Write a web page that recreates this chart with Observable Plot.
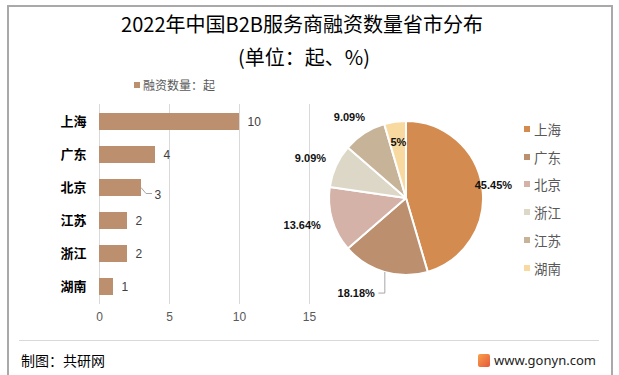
<!DOCTYPE html>
<html><head><meta charset="utf-8">
<script src="https://cdn.jsdelivr.net/npm/d3@7"></script>
<script src="https://cdn.jsdelivr.net/npm/@observablehq/plot@0.6"></script>
<style>
body{margin:0;background:#fff;font-family:"Noto Sans CJK SC","Noto Sans",sans-serif;}
#page{position:relative;width:619px;height:375px;overflow:hidden;background:#fff;}
#frame{position:absolute;left:7px;top:5px;width:606px;height:380px;border:2px solid #A9A9A9;box-sizing:border-box;}
.abs{position:absolute;}
#title{left:0;width:604px;top:10px;text-align:center;font-size:20px;color:#000;line-height:28px;}
#subtitle{left:0;width:608px;top:43px;text-align:center;font-size:20px;color:#000;line-height:28px;}
#barlegend{left:134px;top:77px;font-size:12px;color:#595959;line-height:16px;display:flex;align-items:center;}
#barlegend span.sw{display:inline-block;width:6px;height:6px;margin-right:3px;}
#pielegend{left:524px;top:115px;}
.lrow{height:27.8px;display:flex;align-items:center;font-size:13.5px;color:#595959;}
.lrow span.sw{display:inline-block;width:6px;height:6px;margin-right:4px;}
#sep{left:19px;top:340px;width:580px;height:1px;background:#D9D9D9;}
#credit{left:21px;top:350px;font-size:14px;color:#000;line-height:20px;}
#site{left:478px;top:350px;font-size:13px;color:#222;line-height:20px;display:flex;align-items:center;font-family:"Noto Sans",sans-serif;}
#logo{width:12px;height:13px;margin-right:4px;border-radius:2px;background:linear-gradient(135deg,#F7A24A,#E8553A);}
#bar,#pie{position:absolute;}
#bar{left:0;top:0;}
#pie{left:260px;top:88px;}
</style></head><body>
<div id="page">
  <div id="frame"></div>
  <div id="title" class="abs">2022年中国B2B服务商融资数量省市分布</div>
  <div id="subtitle" class="abs">(单位：起、%)</div>
  <div id="bar"></div>
  <div id="barlegend" class="abs"></div>
  <div id="pie"></div>
  <div id="pielegend" class="abs"></div>
  <div id="sep" class="abs"></div>
  <div id="credit" class="abs">制图：共研网</div>
  <div id="site" class="abs"><div id="logo"></div>www.gonyn.com</div>
</div>
<script>
// ---- data ----
const provinces = ["上海", "广东", "北京", "江苏", "浙江", "湖南"];
const counts = [10, 4, 3, 2, 2, 1];
const xTicks = [0, 5, 10, 15];
const seriesName = "融资数量：起";
const barColor = "#BC8F6E";

const pieProvinces = ["上海", "广东", "北京", "浙江", "江苏", "湖南"];
const pieShares = [45.45, 18.18, 13.64, 9.09, 9.09, 4.55];
const pieLabels = ["45.45%", "18.18%", "13.64%", "9.09%", "9.09%", "5%"];
const pieColors = ["#D38B4F", "#BC8F6E", "#D4B2A8", "#DDD7C7", "#C6B398", "#F8D9A0"];

// ---- bar chart ----
const barData = provinces.map((p, i) => ({province: p, value: counts[i]}));
const leaderBar = "北京"; // label drawn with a leader line

function barLeader(index, scales) {
  const d = barData.find(b => b.province === leaderBar);
  const bw = typeof scales.y.bandwidth === "function" ? scales.y.bandwidth() : 0;
  const x0 = scales.x(d.value), yc = scales.y(d.province) + bw / 2;
  const path = d3.path();
  path.moveTo(x0, yc);
  path.lineTo(x0 + 5, yc + 6);
  path.lineTo(x0 + 11, yc + 6);
  return d3.create("svg:path").attr("d", path.toString()).attr("fill", "none")
    .attr("stroke", "#A6A6A6").attr("stroke-width", 1).node();
}

const bar = Plot.plot({
  width: 330, height: 340,
  marginTop: 104, marginBottom: 36, marginLeft: 99, marginRight: 21,
  style: {background: "transparent", color: "#595959", fontFamily: "'Liberation Sans', Arial, sans-serif"},
  x: {domain: [0, 15]},
  y: {domain: provinces, paddingInner: 0.5, paddingOuter: 0.25},
  marks: [
    Plot.ruleX(xTicks, {stroke: "#D9D9D9", strokeWidth: 1}),
    Plot.barX(barData, {x: "value", y: "province", fill: barColor}),
    Plot.text(barData.filter(d => d.province !== leaderBar), {x: "value", y: "province", text: d => String(d.value), dx: 8, textAnchor: "start", fontSize: 12, fill: "#404040"}),
    barLeader,
    Plot.text(barData.filter(d => d.province === leaderBar), {x: "value", y: "province", text: d => String(d.value), dx: 13, dy: 7, textAnchor: "start", fontSize: 12, fill: "#404040"}),
    Plot.axisX({ticks: xTicks, tickSize: 0, tickPadding: 8, fontSize: 12, fill: "#595959", label: null}),
    Plot.axisY({tickSize: 0, tickPadding: 13, fontSize: 13, fontWeight: "bold", fill: "#000", label: null, fontFamily: "'Noto Sans CJK SC', sans-serif"})
  ]
});
document.getElementById("bar").appendChild(bar);

d3.select("#barlegend").html(`<span class="sw" style="background:${barColor}"></span>${seriesName}`);

// ---- pie chart ----
const total = d3.sum(pieShares);
let acc = 0;
const pieData = pieProvinces.map((p, i) => {
  const a0 = acc / total * 2 * Math.PI;
  acc += pieShares[i];
  const a1 = acc / total * 2 * Math.PI;
  return {province: p, share: pieShares[i], label: pieLabels[i], color: pieColors[i], mid: (a0 + a1) / 2};
});

// label placement rules (units of pie radius)
const pxUnit = 1 / 77;
pieData.forEach(d => {
  const s = Math.sin(d.mid), c = Math.cos(d.mid);
  d.leader = false;
  if (d.share > 40) { d.lx = 1.14 * s; d.ly = 1.2 * c; }          // best fit, on the edge
  else if (d.share < 5) { d.lx = 0.74 * s; d.ly = 0.74 * c; }     // inside
  else if (Math.abs(d.mid - Math.PI) < Math.PI / 6) {               // near bottom: leader line
    d.leader = true;
    d.ex = s; d.ey = c;
    d.lx = s - 10 * pxUnit; d.ly = 1.28 * c;
  } else {                                                          // outside end
    const hw = d.label.length * 3.1 * pxUnit, hh = 6 * pxUnit;
    d.lx = 1.17 * s + hw * s; d.ly = 1.17 * c + hh * c;
  }
});
const leaderPts = pieData.filter(d => d.leader).flatMap(d => [
  {x: d.ex, y: d.ey, k: d.province},
  {x: d.ex, y: d.ly, k: d.province},
  {x: d.ex - 6 * pxUnit, y: d.ly, k: d.province}
]);

function pieMark(index, scales) {
  const cx = scales.x(0), cy = scales.y(0), r = scales.x(1) - scales.x(0);
  const arcs = d3.pie().sort(null).value(d => d.share)(pieData);
  const g = d3.create("svg:g").attr("transform", `translate(${cx},${cy})`);
  g.selectAll("path").data(arcs).join("path")
    .attr("d", d3.arc().innerRadius(0).outerRadius(r))
    .attr("fill", d => d.data.color)
    .attr("stroke", "#fff").attr("stroke-width", 2).attr("stroke-linejoin", "round");
  return g.node();
}

const labelFont = {fontSize: 11, fontWeight: "bold", fill: "#111", fontFamily: "'Liberation Sans', Arial, sans-serif"};
const pie = Plot.plot({
  width: 250, height: 230, margin: 0,
  style: {background: "transparent", overflow: "visible"},
  x: {domain: [-1, 1], range: [69, 223], axis: null},
  y: {domain: [-1, 1], range: [187, 33], axis: null},
  marks: [
    pieMark,
    Plot.line(leaderPts, {x: "x", y: "y", z: "k", stroke: "#A6A6A6", strokeWidth: 1}),
    Plot.text(pieData.filter(d => !d.leader), {x: "lx", y: "ly", text: "label", ...labelFont}),
    Plot.text(pieData.filter(d => d.leader), {x: "lx", y: "ly", text: "label", textAnchor: "end", ...labelFont})
  ]
});
document.getElementById("pie").appendChild(pie);

d3.select("#pielegend").selectAll("div").data(pieData).join("div")
  .attr("class", "lrow")
  .html(d => `<span class="sw" style="background:${d.color}"></span>${d.province}`);
</script>
</body></html>
